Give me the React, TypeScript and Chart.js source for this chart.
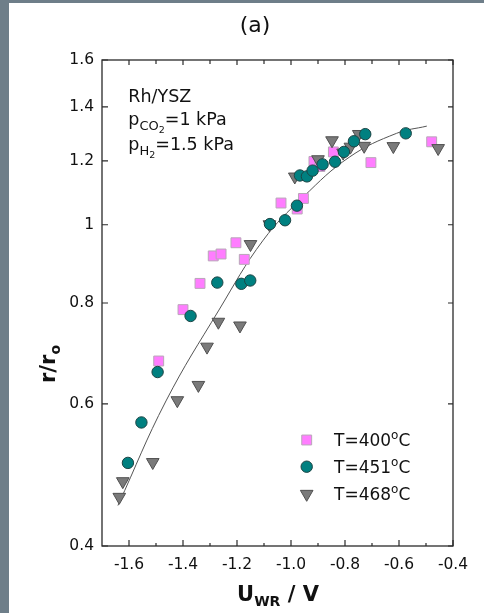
import React, { useEffect, useRef } from 'react';
import { Chart, registerables } from 'chart.js';

Chart.register(...registerables);

const FONT = '"DejaVu Sans", "Liberation Sans", Arial, sans-serif';

// ---- data ----
const series400X = [-1.49, -1.40, -1.337, -1.288, -1.259, -1.204, -1.173, -1.037, -0.977, -0.954, -0.915, -0.893, -0.843, -0.704, -0.479];
const series400Y = [0.678, 0.785, 0.846, 0.915, 0.920, 0.950, 0.906, 1.064, 1.046, 1.078, 1.198, 1.181, 1.231, 1.194, 1.267];

const series451X = [-1.604, -1.554, -1.494, -1.372, -1.273, -1.184, -1.151, -1.078, -1.022, -0.978, -0.967, -0.941, -0.920, -0.883, -0.837, -0.804, -0.767, -0.725, -0.575];
const series451Y = [0.507, 0.569, 0.657, 0.771, 0.848, 0.845, 0.853, 1.002, 1.013, 1.056, 1.151, 1.148, 1.167, 1.188, 1.197, 1.231, 1.269, 1.295, 1.298];

const series468X = [-1.636, -1.623, -1.512, -1.421, -1.343, -1.311, -1.269, -1.189, -1.150, -1.080, -0.986, -0.900, -0.848, -0.807, -0.780, -0.749, -0.729, -0.621, -0.455];
const series468Y = [0.460, 0.481, 0.508, 0.606, 0.633, 0.706, 0.758, 0.750, 0.946, 1.001, 1.147, 1.205, 1.272, 1.228, 1.249, 1.295, 1.252, 1.251, 1.244];

const fitX = [-1.641, -1.463, -1.267, -1.103, -0.954, -0.782, -0.609, -0.497];
const fitY = [0.449, 0.605, 0.784, 0.957, 1.083, 1.214, 1.298, 1.325];

const xTickValues = [-1.6, -1.4, -1.2, -1.0, -0.8, -0.6, -0.4];
const xTickLabels = ['-1.6', '-1.4', '-1.2', '-1.0', '-0.8', '-0.6', '-0.4'];
const xMinorTickValues = [-1.5, -1.3, -1.1, -0.9, -0.7, -0.5];
const yTickValues = [0.4, 0.6, 0.8, 1, 1.2, 1.4, 1.6];
const yTickLabels = ['0.4', '0.6', '0.8', '1', '1.2', '1.4', '1.6'];

const legendLabels = ['400', '451', '468'];

const COL_SQ = '#ff7dff';
const COL_SQ_B = '#b9a6b9';
const COL_CI = '#008080';
const COL_CI_B = '#1d4545';
const COL_TR = '#7a7a7a';
const COL_TR_B = '#505050';

type Part = { t: string; size: number; dy?: number; bold?: boolean };

function drawRich(ctx: CanvasRenderingContext2D, x: number, y: number, parts: Part[], align: 'left' | 'center' = 'left') {
  ctx.textBaseline = 'alphabetic';
  ctx.textAlign = 'left';
  const font = (p: Part) => `${p.bold ? 'bold ' : ''}${p.size}px ${FONT}`;
  let total = 0;
  for (const p of parts) {
    ctx.font = font(p);
    total += ctx.measureText(p.t).width;
  }
  let cx = align === 'center' ? x - total / 2 : x;
  for (const p of parts) {
    ctx.font = font(p);
    ctx.fillText(p.t, cx, y + (p.dy || 0));
    cx += ctx.measureText(p.t).width;
  }
}

function marker(ctx: CanvasRenderingContext2D, kind: string, x: number, y: number) {
  ctx.save();
  ctx.lineWidth = 1;
  ctx.beginPath();
  if (kind === 'rect') {
    const s = 7 * Math.SQRT1_2;
    ctx.rect(x - s, y - s, 2 * s, 2 * s);
    ctx.fillStyle = COL_SQ;
    ctx.strokeStyle = COL_SQ_B;
  } else if (kind === 'circle') {
    ctx.arc(x, y, 5.7, 0, Math.PI * 2);
    ctx.fillStyle = COL_CI;
    ctx.strokeStyle = COL_CI_B;
  } else {
    const r = 7.3;
    for (let i = 0; i < 3; i++) {
      const a = Math.PI + (i * 2 * Math.PI) / 3;
      const px = x + Math.sin(a) * r;
      const py = y - Math.cos(a) * r;
      if (i === 0) ctx.moveTo(px, py);
      else ctx.lineTo(px, py);
    }
    ctx.closePath();
    ctx.fillStyle = COL_TR;
    ctx.strokeStyle = COL_TR_B;
  }
  ctx.fill();
  ctx.stroke();
  ctx.restore();
}

const decorPlugin = {
  id: 'decor',
  beforeDraw(chart: any) {
    const ctx = chart.ctx as CanvasRenderingContext2D;
    ctx.save();
    ctx.fillStyle = '#ffffff';
    ctx.fillRect(0, 0, chart.width, chart.height);
    ctx.fillStyle = '#6e7e89';
    ctx.fillRect(0, 0, 9, chart.height);
    ctx.fillRect(0, 0, chart.width, 3);
    ctx.restore();
  },
  afterDraw(chart: any) {
    const ctx = chart.ctx as CanvasRenderingContext2D;
    const { left, right, top, bottom } = chart.chartArea;
    const xs = chart.scales.x;
    const ys = chart.scales.y;
    ctx.save();
    // frame
    ctx.strokeStyle = '#2a2a2a';
    ctx.lineWidth = 1.3;
    ctx.strokeRect(left, top, right - left, bottom - top);
    // ticks
    ctx.lineWidth = 1.2;
    ctx.beginPath();
    for (const v of xTickValues) {
      const px = xs.getPixelForValue(v);
      ctx.moveTo(px, bottom); ctx.lineTo(px, bottom - 6);
      ctx.moveTo(px, top); ctx.lineTo(px, top + 5);
    }
    for (const v of xMinorTickValues) {
      const px = xs.getPixelForValue(v);
      ctx.moveTo(px, bottom); ctx.lineTo(px, bottom - 3);
      ctx.moveTo(px, top); ctx.lineTo(px, top + 4);
    }
    for (const v of yTickValues) {
      const py = ys.getPixelForValue(v);
      ctx.moveTo(left, py); ctx.lineTo(left + 6, py);
      ctx.moveTo(right, py); ctx.lineTo(right - 5, py);
    }
    ctx.stroke();

    ctx.fillStyle = '#111111';
    // title
    ctx.font = `22px ${FONT}`;
    ctx.textAlign = 'center';
    ctx.textBaseline = 'alphabetic';
    ctx.fillText('(a)', 255, 32);

    // annotations
    drawRich(ctx, 128.3, 101.7, [{ t: 'Rh/YSZ', size: 17.5 }]);
    drawRich(ctx, 128.3, 124.5, [
      { t: 'p', size: 17.5 },
      { t: 'CO', size: 13, dy: 5 },
      { t: '2', size: 9.5, dy: 8 },
      { t: '=1 kPa', size: 17.5 },
    ]);
    drawRich(ctx, 128.3, 150, [
      { t: 'p', size: 17.5 },
      { t: 'H', size: 13, dy: 5 },
      { t: '2', size: 9.5, dy: 8 },
      { t: '=1.5 kPa', size: 17.5 },
    ]);

    // legend
    const kinds = ['rect', 'circle', 'triangle'];
    const ly = [440, 466.7, 494];
    for (let i = 0; i < 3; i++) {
      marker(ctx, kinds[i], 306.7, ly[i]);
      ctx.fillStyle = '#111111';
      drawRich(ctx, 334, ly[i] + 6, [
        { t: 'T=' + legendLabels[i], size: 17 },
        { t: 'o', size: 12, dy: -7 },
        { t: 'C', size: 17 },
      ]);
    }

    // axis titles
    ctx.fillStyle = '#111111';
    drawRich(ctx, 278, 601, [
      { t: 'U', size: 21, bold: true },
      { t: 'WR', size: 14, bold: true, dy: 5 },
      { t: ' / V', size: 21, bold: true },
    ], 'center');

    ctx.save();
    ctx.translate(55, 364);
    ctx.rotate(-Math.PI / 2);
    drawRich(ctx, 0, 0, [
      { t: 'r/r', size: 21, bold: true },
      { t: 'o', size: 14, bold: true, dy: 5 },
    ], 'center');
    ctx.restore();

    ctx.restore();
  },
};

const toPts = (xs: number[], ys: number[]) => xs.map((x, i) => ({ x, y: ys[i] }));

export default function App() {
  const ref = useRef<HTMLCanvasElement | null>(null);
  useEffect(() => {
    if (!ref.current) return;
    const chart = new Chart(ref.current, {
      type: 'scatter',
      data: {
        datasets: [
          {
            label: 'T=451',
            data: toPts(series451X, series451Y),
            pointStyle: 'circle',
            pointRadius: 5.7,
            backgroundColor: COL_CI,
            borderColor: COL_CI_B,
            borderWidth: 1,
            order: 0,
          },
          {
            label: 'T=468',
            data: toPts(series468X, series468Y),
            pointStyle: 'triangle',
            rotation: 180,
            pointRadius: 7.3,
            backgroundColor: COL_TR,
            borderColor: COL_TR_B,
            borderWidth: 1,
            order: 1,
          },
          {
            label: 'T=400',
            data: toPts(series400X, series400Y),
            pointStyle: 'rect',
            pointRadius: 7,
            backgroundColor: COL_SQ,
            borderColor: COL_SQ_B,
            borderWidth: 1,
            order: 2,
          },
          {
            label: 'fit',
            data: toPts(fitX, fitY),
            showLine: true,
            pointRadius: 0,
            borderColor: '#555555',
            borderWidth: 1,
            tension: 0.4,
            order: 3,
          } as any,
        ],
      },
      options: {
        animation: false,
        responsive: false,
        maintainAspectRatio: false,
        layout: { padding: { left: 0, top: 60, right: 31, bottom: 0 } },
        plugins: { legend: { display: false }, tooltip: { enabled: false } },
        scales: {
          x: {
            type: 'linear',
            min: -1.7,
            max: -0.4,
            grid: { display: false, drawTicks: false },
            border: { display: false },
            afterBuildTicks: (s: any) => { s.ticks = xTickValues.map((v) => ({ value: v })); },
            afterFit: (s: any) => { s.height = 67; },
            ticks: {
              padding: 10,
              color: '#111111',
              font: { family: FONT, size: 15.5 },
              maxRotation: 0,
              autoSkip: false,
              callback: (_v: any, i: number) => xTickLabels[i],
            },
          },
          y: {
            type: 'logarithmic',
            min: 0.4,
            max: 1.6,
            grid: { display: false, drawTicks: false },
            border: { display: false },
            afterBuildTicks: (s: any) => { s.ticks = yTickValues.map((v) => ({ value: v })); },
            afterFit: (s: any) => { s.width = 102; },
            ticks: {
              padding: 8,
              color: '#111111',
              font: { family: FONT, size: 15.5 },
              autoSkip: false,
              callback: (_v: any, i: number) => yTickLabels[i],
            },
          },
        },
      },
      plugins: [decorPlugin],
    });
    return () => chart.destroy();
  }, []);
  return (
    <div style={{ position: 'absolute', left: 0, top: 0, width: 484, height: 613 }}>
      <canvas ref={ref} width={484} height={613} style={{ display: 'block' }} />
    </div>
  );
}
